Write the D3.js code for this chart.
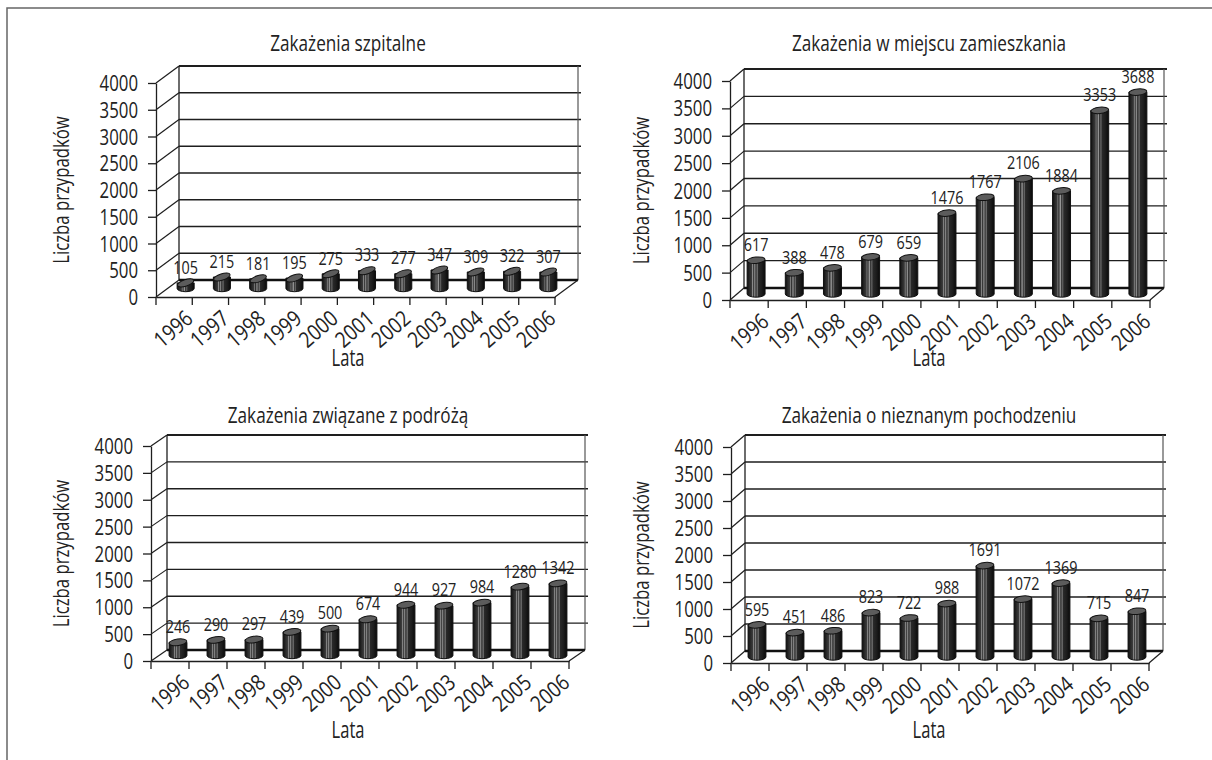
<!DOCTYPE html>
<html>
<head>
<meta charset="utf-8">
<script src="https://cdn.jsdelivr.net/npm/d3@7"></script>
<style>
  body { margin: 0; background: #fff; }
  text { font-family: "Open Sans", "Noto Sans", sans-serif; fill: #222; }
</style>
</head>
<body>
<script>
var years = ['1996', '1997', '1998', '1999', '2000', '2001', '2002', '2003', '2004', '2005', '2006']
var szpitalne = [105, 215, 181, 195, 275, 333, 277, 347, 309, 322, 307]
var zamieszkania = [617, 388, 478, 679, 659, 1476, 1767, 2106, 1884, 3353, 3688]
var podroz = [246, 290, 297, 439, 500, 674, 944, 927, 984, 1280, 1342]
var nieznane = [595, 451, 486, 823, 722, 988, 1691, 1072, 1369, 715, 847]
var yTicks = [0, 500, 1000, 1500, 2000, 2500, 3000, 3500, 4000]
var titles = ['Zakażenia szpitalne', 'Zakażenia w miejscu zamieszkania', 'Zakażenia związane z podróżą', 'Zakażenia o nieznanym pochodzeniu']
var yTitle = 'Liczba przypadków'
var xTitle = 'Lata'

var SX = 0.72 // horizontal squeeze of all text, the source font is condensed

var svg = d3.select('body').append('svg').attr('width', 1212).attr('height', 760)

// outer frame, runs off the right and bottom edge
svg.append('rect').attr('x', 7).attr('y', 8).attr('width', 1400).attr('height', 1000)
  .attr('fill', 'none').attr('stroke', '#666').attr('stroke-width', 1.5)

var defs = svg.append('defs')
var grad = defs.append('linearGradient').attr('id', 'cyl').attr('x1', 0).attr('x2', 1).attr('y1', 0).attr('y2', 0)
var stops = [[0, '#0d0d0d'], [0.12, '#262626'], [0.25, '#3a3a3a'], [0.3, '#8a8a8a'], [0.34, '#2e2e2e'], [0.44, '#9a9a9a'], [0.48, '#333'],
  [0.58, '#6a6a6a'], [0.62, '#2a2a2a'], [0.8, '#1e1e1e'], [1, '#0a0a0a']]
stops.forEach(function (s) { grad.append('stop').attr('offset', s[0]).attr('stop-color', s[1]) })

draw_panel({ tx: 348, ty: 43, x0: 156, x1: 555, yTop: 83, yBot: 297, dx: 23, dy: -17, yl: 61, ly: 358, tilt: -18 }, szpitalne, titles[0])
draw_panel({ tx: 929, ty: 43, x0: 730, x1: 1150, yTop: 81, yBot: 300, dx: 14, dy: -12, yl: 641, ly: 358, tilt: -6 }, zamieszkania, titles[1])
draw_panel({ tx: 348, ty: 415, x0: 151, x1: 569, yTop: 446, yBot: 661, dx: 16, dy: -11, yl: 61, ly: 730, tilt: -8 }, podroz, titles[2])
draw_panel({ tx: 929, ty: 415, x0: 731, x1: 1149, yTop: 447, yBot: 663, dx: 14, dy: -12, yl: 641, ly: 730, tilt: -6 }, nieznane, titles[3])

function squeezed (sel, x, y, size, anchor, s) {
  return sel.attr('transform', 'translate(' + x + ',' + y + ') scale(' + (s || SX) + ',1)')
    .attr('font-size', size).attr('text-anchor', anchor || 'middle')
}

function draw_panel (o, values, title) {
  var g = svg.append('g')
  var x = d3.scaleBand().domain(years).range([o.x0, o.x1])
  var y = d3.scaleLinear().domain([0, 4000]).range([o.yBot, o.yTop])
  var dx = o.dx
  var dy = o.dy
  var ink = '#1e1e1e'

  // back wall and side wall grid
  yTicks.forEach(function (t) {
    g.append('line').attr('x1', o.x0).attr('y1', y(t)).attr('x2', o.x0 + dx).attr('y2', y(t) + dy)
      .attr('stroke', ink).attr('stroke-width', 1.2)
    if (t > 0) {
      g.append('line').attr('x1', o.x0 + dx).attr('y1', y(t) + dy).attr('x2', o.x1 + dx + 3).attr('y2', y(t) + dy)
        .attr('stroke', ink).attr('stroke-width', t === 4000 ? 2 : 1.4)
    }
  })
  g.append('line').attr('x1', o.x0 + dx).attr('y1', y(4000) + dy).attr('x2', o.x0 + dx).attr('y2', y(0) + dy)
    .attr('stroke', ink).attr('stroke-width', 1.3)
  g.append('line').attr('x1', o.x1 + dx).attr('y1', y(4000) + dy).attr('x2', o.x1 + dx).attr('y2', y(0) + dy)
    .attr('stroke', '#555').attr('stroke-width', 1.2)

  // floor
  g.append('line').attr('x1', o.x0 + dx).attr('y1', y(0) + dy).attr('x2', o.x1 + dx).attr('y2', y(0) + dy)
    .attr('stroke', '#111').attr('stroke-width', 2.6)
  g.append('line').attr('x1', o.x1).attr('y1', y(0)).attr('x2', o.x1 + dx).attr('y2', y(0) + dy)
    .attr('stroke', ink).attr('stroke-width', 1.2)

  // front y axis
  var ya = g.append('g').attr('transform', 'translate(' + o.x0 + ',0)')
    .call(d3.axisLeft(y).tickValues(yTicks).tickSize(8).tickSizeOuter(0).tickFormat(d3.format('d')))
  ya.select('.domain').attr('stroke', ink).attr('stroke-width', 1.3)
  ya.selectAll('.tick line').attr('stroke', ink).attr('stroke-width', 1.3)
  ya.selectAll('.tick text').attr('x', null).attr('dy', null).each(function () {
    squeezed(d3.select(this), -18, 7.5, 21, 'end', 0.8).attr('font-family', null)
  })

  // front x axis, ticks on the band edges
  var xa = g.append('g').attr('transform', 'translate(0,' + o.yBot + ')')
    .call(d3.axisBottom(x).tickSize(0).tickSizeOuter(0))
  xa.select('.domain').attr('stroke', ink).attr('stroke-width', 1.3)
  xa.selectAll('.tick text').attr('y', null).attr('dy', null).each(function () {
    d3.select(this).attr('transform', 'translate(' + (x.bandwidth() / 2 - 8) + ',12) rotate(-41) scale(0.85,1)')
      .attr('font-size', 22).attr('text-anchor', 'end').attr('dy', '0.7em').attr('font-family', null)
  })
  years.concat(['end']).forEach(function (yr, i) {
    var px = o.x0 + i * x.step()
    g.append('line').attr('x1', px).attr('y1', o.yBot).attr('x2', px).attr('y2', o.yBot + 8)
      .attr('stroke', ink).attr('stroke-width', 1.3)
  })

  // cylinders
  var w = x.bandwidth() * 0.47
  var ry = 3.2
  years.forEach(function (yr, i) {
    var v = values[i]
    var cx = x(yr) + x.bandwidth() / 2 + dx / 2
    var yb = y(0) + dy / 2
    var yt = y(v) + dy / 2
    var l = cx - w / 2
    var r = cx + w / 2
    g.append('path')
      .attr('d', 'M' + l + ',' + yt + 'L' + l + ',' + yb + 'A' + (w / 2) + ',' + ry + ' 0 0 0 ' + r + ',' + yb + 'L' + r + ',' + yt + 'Z')
      .attr('fill', 'url(#cyl)').attr('stroke', '#111').attr('stroke-width', 1)
    g.append('ellipse').attr('cx', 0).attr('cy', 0).attr('rx', w / 2).attr('ry', ry)
      .attr('transform', 'translate(' + cx + ',' + yt + ') rotate(' + o.tilt + ')')
      .attr('fill', '#5c5c5c').attr('stroke', '#111').attr('stroke-width', 1)
    squeezed(g.append('text').text(v), cx, yt - ry - 6, 18, 'middle', 0.8)
  })

  // titles
  squeezed(g.append('text').text(title), o.tx, o.ty + 8, 22, 'middle', 0.78)
  squeezed(g.append('text').text(xTitle), o.tx, o.ly + 8, 23, 'middle', 0.72)
  g.append('text').text(yTitle)
    .attr('transform', 'translate(' + (o.yl + 8) + ',' + ((o.yTop + o.yBot) / 2) + ') rotate(-90) scale(0.76,1)')
    .attr('font-size', 22).attr('text-anchor', 'middle')
}
</script>
</body>
</html>
